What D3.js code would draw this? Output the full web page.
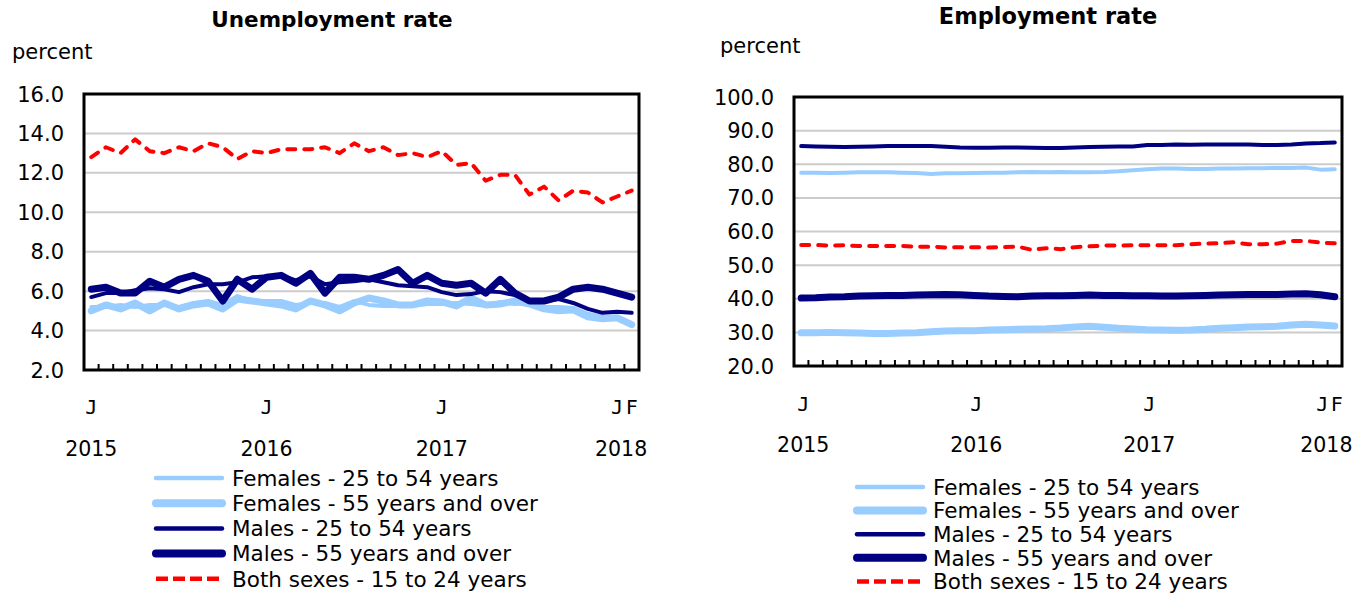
<!DOCTYPE html>
<html>
<head>
<meta charset="utf-8">
<script src="https://cdn.jsdelivr.net/npm/d3@7"></script>
<style>
  html, body { margin: 0; padding: 0; background: #fff; }
  svg { display: block; }
  text { font-family: "DejaVu Sans", Verdana, sans-serif; fill: #000; }
  .mono { font-family: "DejaVu Sans Mono", monospace; }
</style>
</head>
<body>
<svg id="chart" width="1362" height="596"></svg>
<script>
// ---------- data ----------
const monthLetters = ["J","","","","","","","","","","","",
                      "J","","","","","","","","","","","",
                      "J","","","","","","","","","","","",
                      "J","F"];
const yearLabels = ["2015","2016","2017","2018"];
const yearIndex = [0, 12, 24, 36];

const seriesNames = ["Females - 25 to 54 years","Females - 55 years and over","Males - 25 to 54 years","Males - 55 years and over","Both sexes - 15 to 24 years"];

// Unemployment rate (percent)
const unF2554 = [5.2,5.2,5.3,5.2,5.3,5.3,5.2,5.4,5.5,5.3,5.75,5.5,5.5,5.5,5.3,5.4,5.4,5.2,5.5,5.3,5.25,5.25,5.25,5.35,5.35,5.4,5.35,5.25,5.45,5.35,5.4,5.2,5.2,5.15,4.85,4.7,4.7,4.35];
const unF55   = [5.0,5.3,5.1,5.4,5.0,5.4,5.1,5.3,5.4,5.1,5.6,5.5,5.4,5.3,5.1,5.5,5.3,5.0,5.4,5.65,5.5,5.3,5.3,5.5,5.45,5.25,5.65,5.3,5.35,5.5,5.35,5.1,5.0,5.05,4.7,4.6,4.65,4.3];
const unM2554 = [5.7,5.9,5.9,6.05,6.15,6.1,5.95,6.2,6.35,6.35,6.45,6.7,6.75,6.8,6.55,6.75,6.35,6.45,6.5,6.6,6.45,6.3,6.25,6.2,5.95,5.8,5.85,6.0,5.95,5.8,5.55,5.5,5.6,5.4,5.1,4.9,4.95,4.9];
const unM55   = [6.1,6.2,5.9,5.9,6.5,6.2,6.6,6.8,6.5,5.5,6.6,6.1,6.7,6.8,6.4,6.9,5.9,6.7,6.7,6.6,6.8,7.1,6.4,6.8,6.4,6.3,6.4,5.9,6.6,5.9,5.5,5.5,5.7,6.1,6.2,6.1,5.9,5.7];
const unYouth = [12.8,13.3,13.0,13.7,13.1,13.0,13.3,13.1,13.5,13.3,12.7,13.1,13.0,13.2,13.2,13.2,13.3,13.0,13.5,13.1,13.3,12.9,13.0,12.8,13.1,12.4,12.5,11.6,11.9,11.9,10.9,11.3,10.6,11.1,11.0,10.5,10.8,11.1];

// Employment rate (percent)
const emF2554 = [77.5,77.5,77.4,77.5,77.6,77.6,77.6,77.5,77.4,77.1,77.3,77.3,77.4,77.5,77.5,77.6,77.7,77.6,77.7,77.6,77.6,77.7,77.9,78.2,78.5,78.7,78.7,78.6,78.6,78.7,78.7,78.8,78.8,78.9,78.9,79.0,78.4,78.5];
const emF55   = [29.9,29.9,30.0,29.9,29.8,29.7,29.7,29.8,29.9,30.2,30.4,30.5,30.5,30.7,30.8,30.9,31.0,31.1,31.3,31.6,31.8,31.5,31.2,31.0,30.8,30.7,30.6,30.7,30.9,31.2,31.4,31.6,31.7,31.8,32.2,32.4,32.2,31.9];
const emM2554 = [85.4,85.3,85.2,85.1,85.2,85.3,85.4,85.4,85.4,85.4,85.2,85.0,84.9,84.9,85.0,85.0,84.9,84.8,84.8,85.0,85.1,85.2,85.3,85.3,85.7,85.7,85.9,85.8,85.9,85.9,85.9,85.9,85.7,85.7,85.9,86.2,86.3,86.5];
const emM55   = [40.2,40.3,40.5,40.6,40.8,40.9,41.0,41.0,41.1,41.2,41.3,41.2,41.0,40.8,40.7,40.6,40.8,40.9,40.9,41.0,41.1,41.0,41.0,40.9,40.9,40.8,40.8,40.9,41.0,41.1,41.2,41.3,41.3,41.3,41.4,41.5,41.2,40.6];
const emYouth = [56.0,56.0,55.8,55.9,55.7,55.7,55.7,55.7,55.5,55.5,55.25,55.35,55.35,55.25,55.35,55.5,54.55,55.05,54.75,55.35,55.6,55.8,55.8,55.9,55.9,55.9,55.9,56.2,56.4,56.5,56.8,56.2,56.2,56.4,57.2,57.2,56.7,56.5];

const unTicks = [2,4,6,8,10,12,14,16];
const emTicks = [20,30,40,50,60,70,80,90,100];

// ---------- styles ----------
const styles = [
  {color:"#99CCFF", w:4, lw:4.5, dash:null},
  {color:"#99CCFF", w:7, lw:8, dash:null},
  {color:"#000080", w:4, lw:4.5, dash:null},
  {color:"#000080", w:7, lw:8, dash:null},
  {color:"#FF0000", w:4, lw:4.5, dash:"8,9"}
];

const svg = d3.select("#chart");

function drawPanel(cfg) {
  const g = svg.append("g");
  const x = d3.scaleBand().domain(d3.range(38)).range([cfg.left, cfg.right]);
  const y = d3.scaleLinear().domain(cfg.domain).range([cfg.bottom, cfg.top]);
  const bw = x.bandwidth();

  // gridlines
  g.selectAll(".grid").data(cfg.ticks.slice(1, -1)).enter().append("line")
    .attr("x1", cfg.left).attr("x2", cfg.right)
    .attr("y1", d => y(d)).attr("y2", d => y(d))
    .attr("stroke", "#cccccc").attr("stroke-width", 2);

  // y tick labels
  g.selectAll(".yl").data(cfg.ticks).enter().append("text")
    .attr("x", cfg.left - 20).attr("y", d => y(d))
    .attr("dy", "0.36em").attr("text-anchor", "end")
    .style("font-size", "21px")
    .text(d => d.toFixed(1));

  // series
  const line = d3.line().x((d, i) => x(i) + bw / 2).y(d => y(d)).curve(d3.curveLinear);
  cfg.series.forEach((s, k) => {
    const st = styles[k];
    const p = g.append("path").datum(s)
      .attr("d", line).attr("fill", "none")
      .attr("stroke", st.color).attr("stroke-width", st.w)
      .attr("stroke-linejoin", "round").attr("stroke-linecap", "round");
    if (st.dash) p.attr("stroke-dasharray", st.dash);
  });

  // tick marks at category boundaries
  g.selectAll(".tk").data(d3.range(1, 38)).enter().append("line")
    .attr("x1", d => x(d)).attr("x2", d => x(d))
    .attr("y1", cfg.bottom).attr("y2", cfg.bottom - 6)
    .attr("stroke", "#000").attr("stroke-width", 2);

  // frame
  g.append("rect").attr("x", cfg.left).attr("y", cfg.top)
    .attr("width", cfg.right - cfg.left).attr("height", cfg.bottom - cfg.top)
    .attr("fill", "none").attr("stroke", "#000").attr("stroke-width", 3);

  // month letters
  monthLetters.forEach((m, i) => {
    if (!m) return;
    g.append("text").attr("class", "mono")
      .attr("x", x(i) + bw / 2 + cfg.labOff).attr("y", cfg.monthY)
      .attr("text-anchor", "middle").style("font-size", "20px").text(m);
  });
  // year labels
  yearLabels.forEach((yl, k) => {
    g.append("text")
      .attr("x", x(yearIndex[k]) + bw / 2 + cfg.labOff + (k === 3 ? 4 : 0)).attr("y", cfg.yearY)
      .attr("text-anchor", "middle").style("font-size", "20.5px").text(yl);
  });

  // title
  g.append("text").attr("x", cfg.titleX).attr("y", cfg.titleY)
    .attr("text-anchor", "middle").style("font-size", cfg.titleSize).style("font-weight", "bold")
    .text(cfg.title);
  // unit
  g.append("text").attr("x", cfg.unitX).attr("y", cfg.unitY)
    .style("font-size", "21px").text("percent");

  // legend
  seriesNames.forEach((nm, k) => {
    const st = styles[k];
    const cy = cfg.legY + k * cfg.legStep;
    const ln = g.append("line")
      .attr("x1", cfg.legX).attr("x2", cfg.legX + 66)
      .attr("y1", cy).attr("y2", cy)
      .attr("stroke", st.color).attr("stroke-width", st.lw)
      .attr("stroke-linecap", st.dash ? "butt" : "round");
    if (st.dash) ln.attr("stroke-dasharray", "12,5");
    g.append("text").attr("x", cfg.legX + 76).attr("y", cy)
      .attr("dy", "0.36em").style("font-size", "21.5px").text(nm);
  });
}

drawPanel({
  left: 84, right: 639, top: 94, bottom: 370, domain: [2, 16], ticks: unTicks,
  series: [unF2554, unF55, unM2554, unM55, unYouth],
  monthY: 414, yearY: 456, labOff: 0,
  title: "Unemployment rate", titleSize: "21.5px", titleX: 332, titleY: 27,
  unitX: 12, unitY: 59,
  legX: 156, legY: 478, legStep: 25.2
});

drawPanel({
  left: 794, right: 1342, top: 97, bottom: 366, domain: [20, 100], ticks: emTicks,
  series: [emF2554, emF55, emM2554, emM55, emYouth],
  monthY: 411, yearY: 452, labOff: 2,
  title: "Employment rate", titleSize: "22.5px", titleX: 1048, titleY: 24,
  unitX: 720, unitY: 53,
  legX: 857, legY: 487, legStep: 23.6
});
</script>
</body>
</html>
